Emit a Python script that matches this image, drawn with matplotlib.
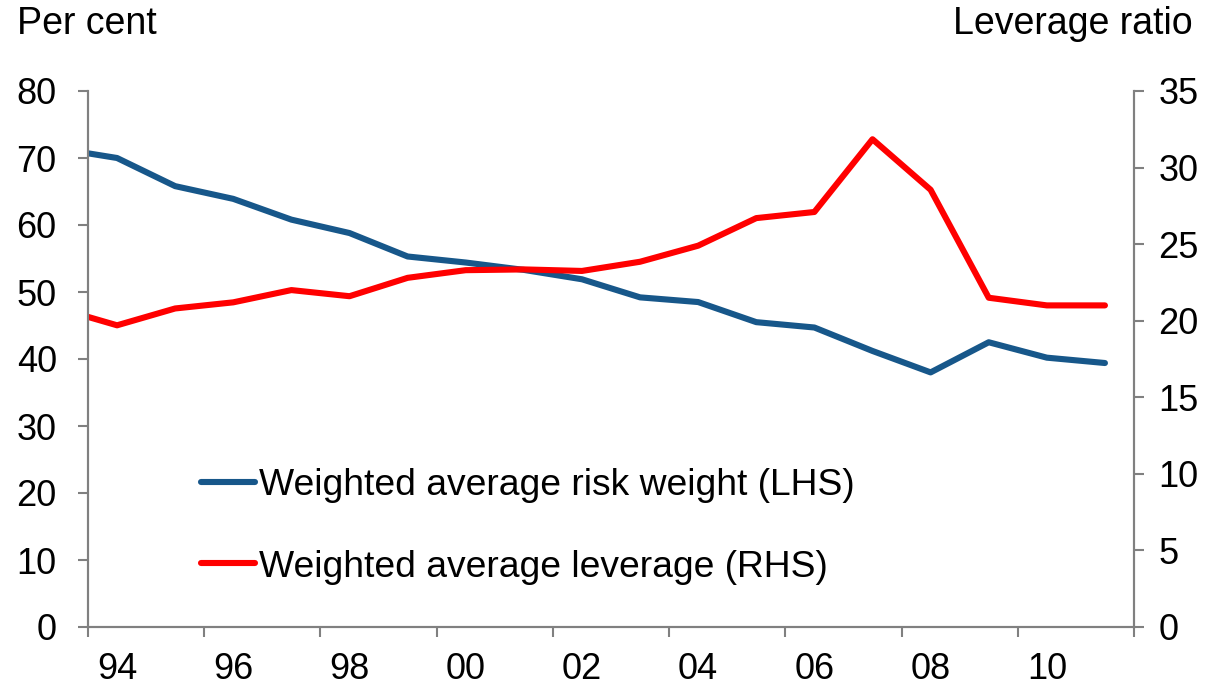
import matplotlib.pyplot as plt

plt.rcParams['font.family'] = ['Liberation Sans', 'DejaVu Sans']

years = list(range(1993, 2012))
risk_weight = [71.4, 70.0, 65.8, 63.9, 60.8, 58.8, 55.3, 54.4, 53.3, 51.9,
               49.2, 48.5, 45.5, 44.7, 41.2, 38.0, 42.5, 40.2, 39.4]
leverage = [20.8, 19.7, 20.8, 21.2, 22.0, 21.6, 22.8, 23.3, 23.35, 23.25,
            23.85, 24.9, 26.7, 27.1, 31.85, 28.55, 21.5, 21.0, 21.0]

left_ticks = [0, 10, 20, 30, 40, 50, 60, 70, 80]
right_ticks = [0, 5, 10, 15, 20, 25, 30, 35]
year_labels = ["94", "96", "98", "00", "02", "04", "06", "08", "10"]
label_years = [1994, 1996, 1998, 2000, 2002, 2004, 2006, 2008, 2010]
tick_years = [1993.5 + 2 * i for i in range(10)]

blue = "#17578A"
red = "#FF0000"
grey = "#808080"
fs = 26

fig = plt.figure(figsize=(12.13, 6.89), dpi=100)
ax = fig.add_axes([88 / 1213, 1 - 627 / 689, (1134 - 88) / 1213, (627 - 91) / 689])
ax2 = ax.twinx()

l1, = ax.plot(years, risk_weight, color=blue, lw=4.4, solid_joinstyle="round",
              solid_capstyle="round", label="Weighted average risk weight (LHS)")
l2, = ax2.plot(years, leverage, color=red, lw=4.4, solid_joinstyle="round",
               solid_capstyle="round", label="Weighted average leverage (RHS)")

ax.set_xlim(1993.5, 2011.5)
ax.set_ylim(0, 80)
ax2.set_ylim(0, 35)

ax.set_yticks(left_ticks)
ax2.set_yticks(right_ticks)
ax.set_xticks(tick_years)
ax.set_xticklabels([])
ax.set_xticks(label_years, minor=True)
ax.set_xticklabels(year_labels, minor=True)

for a in (ax, ax2):
    for s in a.spines.values():
        s.set_color(grey)
        s.set_linewidth(1.5)
    a.spines["top"].set_visible(False)

ax.tick_params(axis="y", direction="out", length=7.5, width=1.5, color=grey,
               labelsize=fs, pad=15)
ax.tick_params(axis="x", which="major", direction="out", length=7.5, width=1.5,
               color=grey)
ax.tick_params(axis="x", which="minor", length=0, labelsize=fs, pad=18)
ax2.tick_params(axis="y", direction="out", length=7.5, width=1.5, color=grey,
                labelsize=fs, pad=10)

fig.text(17 / 1213, 1 - 24 / 689, "Per cent", fontsize=27, va="center", ha="left")
fig.text(1193 / 1213, 1 - 24 / 689, "Leverage ratio", fontsize=27, va="center",
         ha="right")

leg = ax.legend(handles=[l1, l2], loc="upper left",
                bbox_to_anchor=(201 / 1213, 1 - 468 / 689),
                bbox_transform=fig.transFigure, frameon=False, fontsize=26.8,
                handlelength=1.45, handletextpad=0.12, labelspacing=1.25,
                borderpad=0, borderaxespad=0)

fig.savefig("out.png", dpi=100)
